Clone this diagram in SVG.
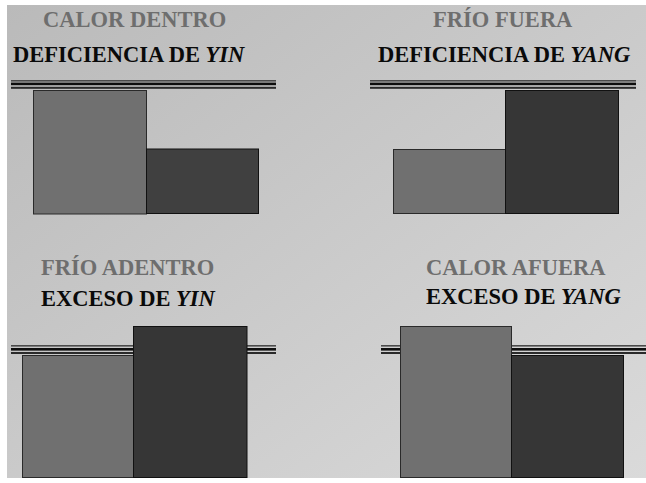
<svg xmlns="http://www.w3.org/2000/svg" width="646" height="483" viewBox="0 0 646 483">
<defs>
<linearGradient id="bg" x1="0" y1="0" x2="1" y2="1">
<stop offset="0" stop-color="#bababa"/>
<stop offset="1" stop-color="#dadada"/>
</linearGradient>
<style>
.t1{fill:#6e6e6e}
.t2{fill:#0a0a0a}
.it{font-style:italic}
.mid{fill:#707070;stroke:#2a2a2a;stroke-width:1}
.dk{fill:#363636;stroke:#111;stroke-width:1}
.la{fill:#4a4a4a}
.lb{fill:#0d0d0d}
.lc{fill:#2a2a2a}
</style>
</defs>
<rect x="0" y="0" width="646" height="483" fill="#ffffff"/>
<rect x="7" y="5" width="639" height="473" fill="url(#bg)"/>
<g id="calor-dentro">
<text class="t1" font-family="Liberation Serif" font-weight="bold" font-size="22.5" x="43" y="27">CALOR DENTRO</text>
<text class="t2" font-family="Liberation Serif" font-weight="bold" font-size="22.5" x="13" y="62">DEFICIENCIA DE <tspan class="it">YIN</tspan></text>
<rect class="la" x="11" y="80" width="265" height="1.6"/>
<rect class="lb" x="11" y="82.6" width="265" height="2.6"/>
<rect class="lc" x="11" y="86.8" width="265" height="2"/>
<rect class="mid" x="33.5" y="90.5" width="113" height="123.5"/>
<rect class="dk" x="146.5" y="149" width="112" height="64.5" style="fill:#404040"/>
</g>
<g id="frio-fuera">
<text class="t1" font-family="Liberation Serif" font-weight="bold" font-size="22.5" x="433" y="27">FRÍO FUERA</text>
<text class="t2" font-family="Liberation Serif" font-weight="bold" font-size="22.5" x="378" y="62">DEFICIENCIA DE <tspan class="it">YANG</tspan></text>
<rect class="la" x="370" y="80" width="266" height="1.6"/>
<rect class="lb" x="370" y="82.6" width="266" height="2.6"/>
<rect class="lc" x="370" y="86.8" width="266" height="2"/>
<rect class="mid" x="393.5" y="149.5" width="112" height="64"/>
<rect class="dk" x="505.5" y="90.5" width="113" height="123"/>
</g>
<g id="frio-adentro">
<text class="t1" font-family="Liberation Serif" font-weight="bold" font-size="22.5" x="41" y="275">FRÍO ADENTRO</text>
<text class="t2" font-family="Liberation Serif" font-weight="bold" font-size="22.5" x="41" y="306">EXCESO DE <tspan class="it">YIN</tspan></text>
<rect class="la" x="11" y="345" width="265" height="1.6"/>
<rect class="lb" x="11" y="348" width="265" height="2.6"/>
<rect class="lc" x="11" y="352" width="265" height="2"/>
<rect class="mid" x="22.5" y="355.5" width="111" height="122"/>
<rect class="dk" x="133.5" y="326.5" width="113.5" height="151"/>
</g>
<g id="calor-afuera">
<text class="t1" font-family="Liberation Serif" font-weight="bold" font-size="22.5" x="426" y="275">CALOR AFUERA</text>
<text class="t2" font-family="Liberation Serif" font-weight="bold" font-size="22.5" x="426" y="304">EXCESO DE <tspan class="it">YANG</tspan></text>
<rect class="la" x="381" y="345" width="265" height="1.6"/>
<rect class="lb" x="381" y="348" width="265" height="2.6"/>
<rect class="lc" x="381" y="352" width="265" height="2"/>
<rect class="mid" x="400.5" y="326.5" width="111" height="151"/>
<rect class="dk" x="511.5" y="355.5" width="112" height="122"/>
</g>
<g id="connectors"/>
</svg>
